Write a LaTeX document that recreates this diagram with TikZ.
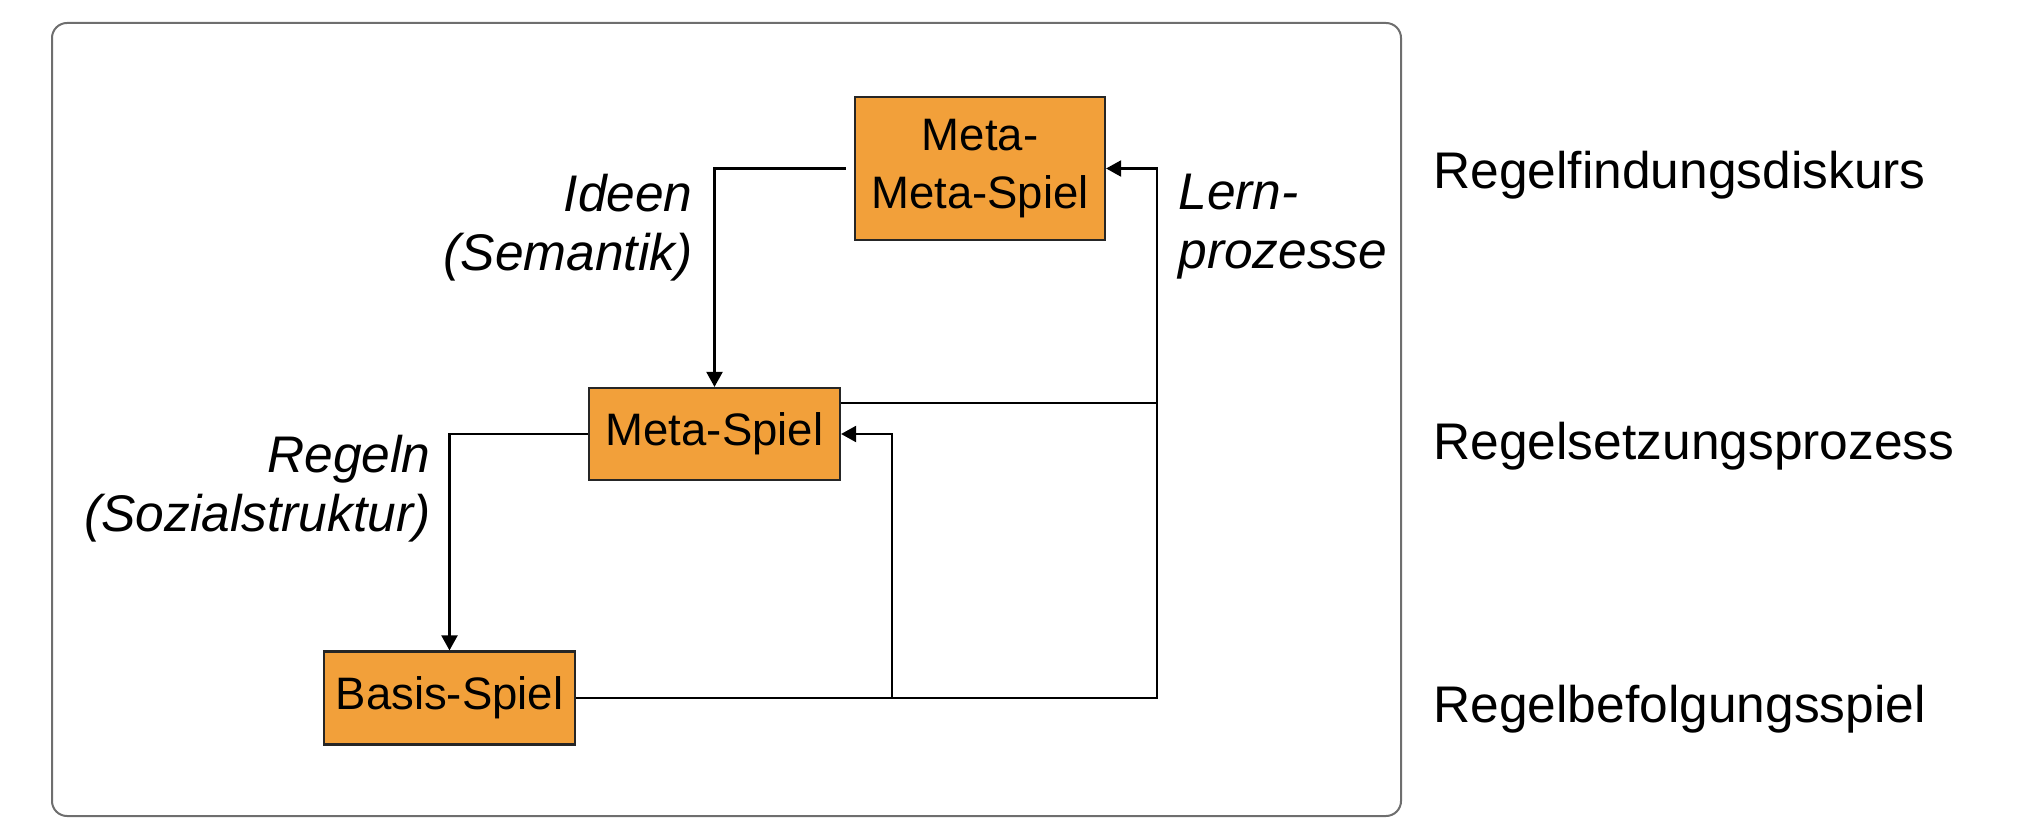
\documentclass[tikz,border=0pt]{standalone}
\usepackage{fontspec}
\setmainfont{Liberation Sans}
\usetikzlibrary{arrows.meta}
\definecolor{boxorange}{RGB}{242,160,58}
\definecolor{framegray}{RGB}{110,110,110}
\tikzset{
  gamebox/.style={draw=black!85, line width=1.1pt, fill=boxorange, inner sep=0pt,
    font=\fontsize{22.75}{29}\selectfont, align=center},
  conn/.style={draw=black, line width=1.1pt},
  arr/.style={conn, -{Triangle[length=7.5pt,width=8pt]}},
  lbl/.style={font=\fontsize{25.75}{29.5}\selectfont\itshape, inner sep=0pt},
  lvl/.style={font=\fontsize{25.75}{30}\selectfont, inner sep=0pt, anchor=west}
}
\begin{document}
\begin{tikzpicture}[x=0.5pt,y=-0.5pt]
\useasboundingbox (0,0) rectangle (2032,838);
\draw[framegray, line width=1pt, rounded corners=7.5pt] (52,23) rectangle (1401,816);

\node[gamebox, minimum width=125pt, minimum height=71.5pt] (mm) at (980,168.5) {Meta-\\Meta-Spiel};
\node[gamebox, minimum width=125.5pt, minimum height=46pt] (ms) at (714.5,434) {Meta-Spiel};
\node[gamebox, minimum width=125.5pt, minimum height=46.5pt] (bs) at (449.5,698) {Basis-Spiel};

\coordinate (lx) at (1157,0);
\coordinate (jx) at (892,0);
\coordinate (msr) at ([yshift=15.5pt]ms.east);

\draw[arr, shorten <=4pt] (mm.west) -| (ms.north);
\draw[arr] (ms.west) -| (bs.north);
\draw[arr] (bs.east) -- (bs.east -| lx) |- (mm.east);
\draw[arr] (bs.east -| jx) |- (ms.east);
\draw[conn] (msr) -- (msr -| lx);

\node[lbl, anchor=east, align=right] (ideen) at (693,227.5) {Ideen\\(Semantik)};
\node[lbl, anchor=east, align=right] (regeln) at (431,489) {Regeln\\(Sozialstruktur)};
\node[lbl, anchor=west, align=left] (lern) at (1178,226.5) {Lern-\\prozesse};

\node[lvl] (l1) at (1433,175) {Regelfindungsdiskurs};
\node[lvl] (l2) at (1433,446) {Regelsetzungsprozess};
\node[lvl] (l3) at (1433,709) {Regelbefolgungsspiel};
\end{tikzpicture}
\end{document}
